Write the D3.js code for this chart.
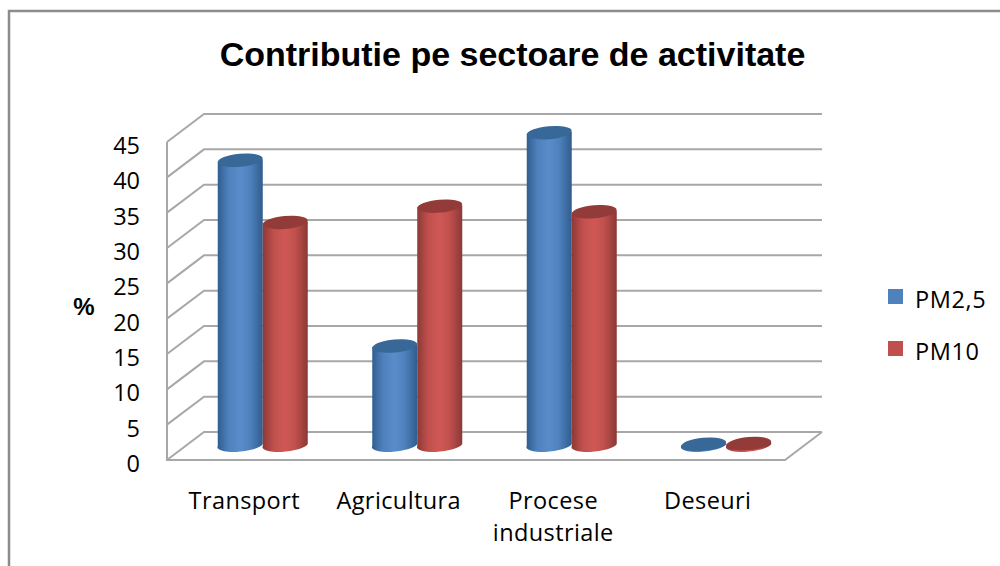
<!DOCTYPE html>
<html lang="ro">
  <head>
    <meta charset="utf-8">
    <script src="https://cdn.jsdelivr.net/npm/d3@7"></script>
    <style>
      html,body{margin:0;padding:0;background:#fff;}
      svg{display:block;}
      text{fill:#000;}
      .lab{font-family:"Open Sans",sans-serif;font-size:23.5px;}
    </style>
  </head>
  <body>
    <svg></svg>
  </body>
  <script>

    var categories = ['Transport','Agricultura','Procese industriale','Deseuri'];
    var seriesNames = ['PM2,5','PM10'];
    var pm25 = [40.3,14,44.2,0.1];
    var pm10 = [31.5,33.8,33,0.2];
    var yTicks = [0,5,10,15,20,25,30,35,40,45];
    var colors = ['#4f81bd','#c0504d'];
    var mids = ['#5a8cca','#d05855'];
    var darks = ['#2f5d8e','#8c3836'];
    var tops = ['#386797','#933a38'];

    var svg = d3.select('svg').attr('width',1000).attr('height',566);

    // frame
    svg.append('path')
       .attr('d','M9,566V11H1000')
       .attr('fill','none')
       .attr('stroke','#8c8c8c')
       .attr('stroke-width',2.5);

    svg.append('text')
       .attr('x',512.5).attr('y',66)
       .attr('text-anchor','middle')
       .style('font-family','"Liberation Sans",Arial,sans-serif')
       .style('font-weight','bold')
       .style('font-size','34px')
       .text('Contributie pe sectoare de activitate');

    // depth offset of the 3d box
    var dx = 37, dy = -28;

    var yFront = d3.scaleLinear().domain([0,45]).range([460,142]);
    var xFront = d3.scaleBand().domain(categories).range([167,785]);
    // the bars stand half way into the box
    var yMid = function(v){ return yFront(v)+dy/2; };
    var xMid = d3.scaleBand().domain(categories).range([167+dx/2,785+dx/2]);
    var xSeries = d3.scaleBand().domain(seriesNames).range([-45,45]);

    var defs = svg.append('defs');
    var blur = defs.append('filter').attr('id','soft')
                   .attr('x','-5%').attr('y','-5%').attr('width','110%').attr('height','110%');
    blur.append('feGaussianBlur').attr('stdDeviation',0.6);

    mids.forEach(function(c,i){
      var g = defs.append('linearGradient').attr('id','cyl'+i);
      g.append('stop').attr('offset','0%').attr('stop-color',darks[i]);
      g.append('stop').attr('offset','25%').attr('stop-color',colors[i]);
      g.append('stop').attr('offset','50%').attr('stop-color',c);
      g.append('stop').attr('offset','72%').attr('stop-color',colors[i]);
      g.append('stop').attr('offset','100%').attr('stop-color',darks[i]);
    });

    // walls and floor
    var walls = svg.append('g').attr('filter','url(#soft)')
                   .attr('fill','none').attr('stroke','#a8a8a8').attr('stroke-width',2);

    walls.selectAll('.grid').data(yTicks).enter().append('path')
         .classed('grid',true)
         .attr('d',function(d){
           var y = yFront(d);
           return 'M167,'+y+'L'+(167+dx)+','+(y+dy)+'H'+(785+dx);
         });

    walls.append('path')
         .attr('d','M167,'+yFront(45)+'V'+yFront(0)+'H785L'+(785+dx)+','+(yFront(0)+dy));

    // cylinders
    var bars = svg.append('g').attr('filter','url(#soft)');
    var rows = [];
    categories.forEach(function(c,i){
      rows.push({cat:c,s:0,v:pm25[i]});
      rows.push({cat:c,s:1,v:pm10[i]});
    });

    var rx = 22.5, ry = 6.5;
    var cx = function(d){
      return xMid(d.cat)+xMid.bandwidth()/2+xSeries(seriesNames[d.s])+xSeries.bandwidth()/2;
    };

    var bar = bars.selectAll('.bar').data(rows).enter().append('g').classed('bar',true);

    bar.append('path')
       .attr('fill',function(d){ return 'url(#cyl'+d.s+')'; })
       .attr('d',function(d){
         var x = cx(d), y0 = yMid(0), y1 = yMid(d.v);
         return 'M'+(x-rx)+','+y1+'V'+y0
               +'A'+rx+','+ry+' -6 0 0 '+(x+rx)+','+(y0-2)
               +'V'+(y1-2)+'Z';
       });

    bar.append('ellipse')
       .attr('cx',cx)
       .attr('cy',function(d){ return yMid(d.v)-1; })
       .attr('rx',rx).attr('ry',ry)
       .attr('transform',function(d){ return 'rotate(-5,'+cx(d)+','+(yMid(d.v)-1)+')'; })
       .attr('fill',function(d){ return tops[d.s]; });

    // axes
    var yAxis = d3.axisLeft(yFront).tickValues(yTicks).tickSize(0).tickPadding(0);
    var gy = svg.append('g').attr('transform','translate(140,3)').call(yAxis);
    gy.select('.domain').remove();
    gy.selectAll('text').attr('class','lab').attr('dy','0.36em');

    var xAxis = d3.axisBottom(xFront).tickSize(0).tickPadding(0);
    var gx = svg.append('g').attr('transform','translate(0,486)').call(xAxis);
    gx.select('.domain').remove();
    gx.selectAll('text')
      .attr('class','lab')
      .attr('y',0).attr('dy',0)
      .style('letter-spacing','0.4px')
      .each(function(d){
        var t = d3.select(this), words = d.split(' ');
        t.text(null);
        words.forEach(function(w,i){
          t.append('tspan').attr('x',0).attr('y',i*32+23).text(w);
        });
      });

    svg.append('text')
       .attr('x',84).attr('y',315)
       .attr('text-anchor','middle')
       .style('font-family','"Liberation Sans",Arial,sans-serif')
       .style('font-weight','bold')
       .style('font-size','24px')
       .text('%');

    // legend
    var legend = svg.selectAll('.legend').data(seriesNames).enter().append('g')
                    .classed('legend',true)
                    .attr('transform',function(d,i){ return 'translate(888,'+(289+i*52)+')'; });
    legend.append('rect').attr('width',15).attr('height',15)
          .attr('fill',function(d,i){ return colors[i]; });
    legend.append('text').attr('class','lab')
          .attr('x',27).attr('y',19)
          .style('letter-spacing','0.6px')
          .text(function(d){ return d; });

  </script>
</html>
